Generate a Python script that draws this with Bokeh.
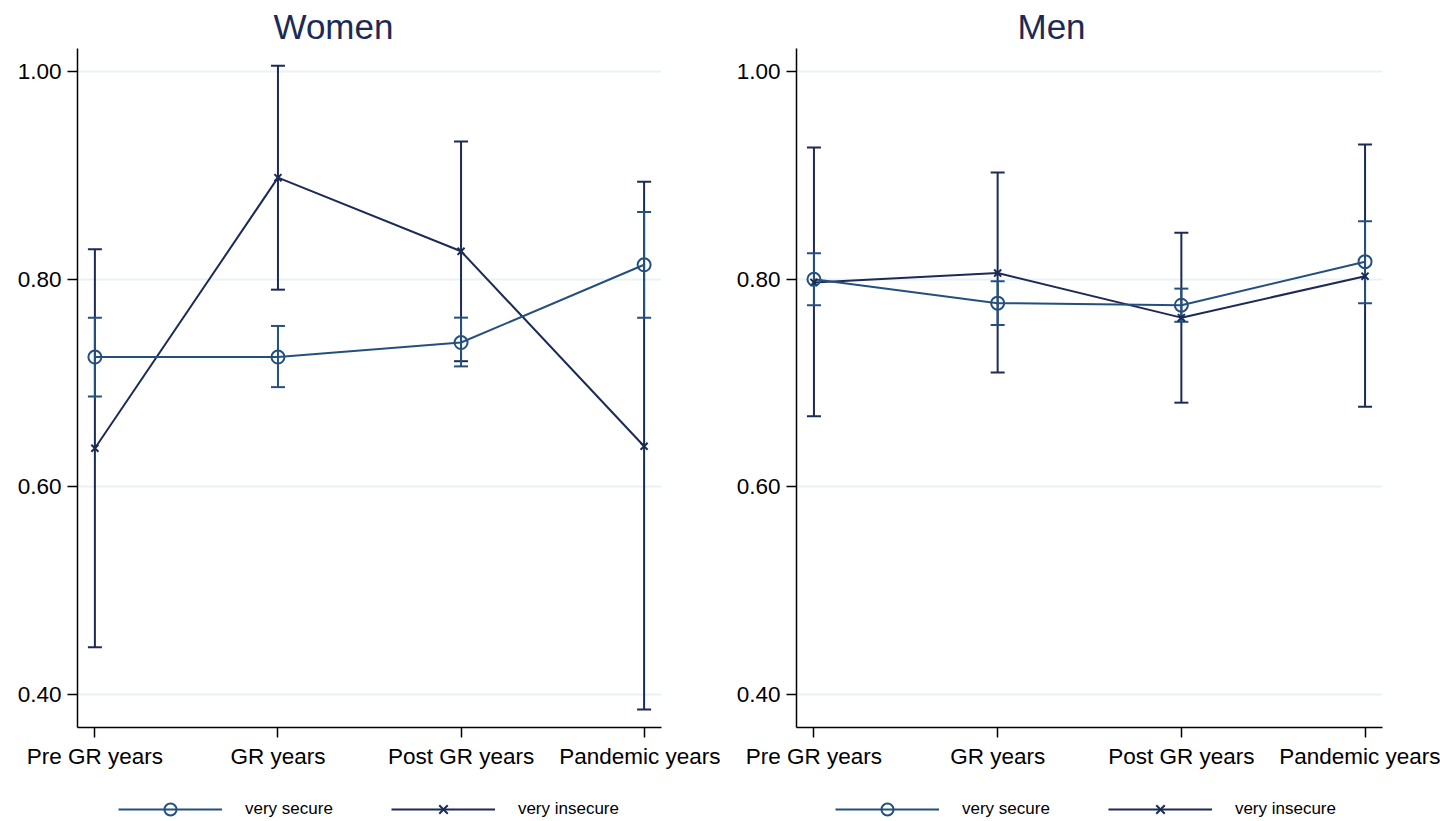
from bokeh.plotting import figure
from bokeh.models import (Range1d, FixedTicker, NumeralTickFormatter, Whisker,
                          ColumnDataSource, Legend, LegendItem, TeeHead)
from bokeh.layouts import row, column
from bokeh.embed import file_html
from bokeh.resources import INLINE

# ---------------- data ----------------
categories = ["Pre GR years", "GR years", "Post GR years", "Pandemic years"]
positions = [1, 2, 3, 4]
y_ticks = [0.4, 0.6, 0.8, 1.0]

women_secure = [0.725, 0.725, 0.739, 0.814]
women_secure_lo = [0.687, 0.696, 0.716, 0.763]
women_secure_hi = [0.763, 0.755, 0.763, 0.865]
women_insecure = [0.637, 0.898, 0.827, 0.639]
women_insecure_lo = [0.445, 0.790, 0.721, 0.385]
women_insecure_hi = [0.829, 1.006, 0.933, 0.894]

men_secure = [0.800, 0.777, 0.775, 0.817]
men_secure_lo = [0.775, 0.756, 0.759, 0.777]
men_secure_hi = [0.825, 0.798, 0.791, 0.856]
men_insecure = [0.797, 0.806, 0.763, 0.803]
men_insecure_lo = [0.668, 0.710, 0.681, 0.677]
men_insecure_hi = [0.927, 0.903, 0.845, 0.930]

series_labels = ["very secure", "very insecure"]

# ---------------- style ----------------
FONT = "Liberation Sans"
SECURE = "#24507d"
INSECURE = "#1c2a56"
TITLE_C = "#1c2a56"
GRID = "#eaf2f3"


def panel(title, title_offset, src_s, src_i, frame_w, border_left, border_right):
    p = figure(frame_width=frame_w, frame_height=679, output_backend="svg",
               toolbar_location=None,
               x_range=Range1d(0.905, 4.095), y_range=Range1d(0.3677, 1.0226),
               min_border_left=border_left, min_border_right=border_right,
               min_border_top=48, min_border_bottom=44)
    p.title.text = title
    p.title.align = "left"
    p.title.offset = title_offset
    p.title.text_font = FONT
    p.title.text_font_size = "35px"
    p.title.text_font_style = "normal"
    p.title.text_color = TITLE_C
    p.title.standoff = 6
    p.outline_line_color = None
    p.background_fill_color = "white"
    p.border_fill_color = "white"

    # axes
    for ax in (p.xaxis[0], p.yaxis[0]):
        ax.axis_line_color = "black"
        ax.axis_line_width = 1.5
        ax.major_tick_line_color = "black"
        ax.major_tick_line_width = 1.5
        ax.major_tick_out = 10
        ax.major_tick_in = 0
        ax.minor_tick_line_color = None
        ax.major_label_text_font = FONT
        ax.major_label_text_font_size = "22.5px"
        ax.major_label_text_color = "black"
        ax.major_label_standoff = 6
        ax.axis_label_standoff = 0
    p.xaxis.ticker = FixedTicker(ticks=positions)
    p.xaxis.major_label_overrides = {pos: c for pos, c in zip(positions, categories)}
    p.yaxis.ticker = FixedTicker(ticks=y_ticks)
    p.yaxis.formatter = NumeralTickFormatter(format="0.00")

    p.xgrid.grid_line_color = None
    p.ygrid.grid_line_color = GRID
    p.ygrid.grid_line_width = 2

    for src, col in ((src_i, INSECURE), (src_s, SECURE)):
        w = Whisker(source=src, base="x", upper="hi", lower="lo",
                    line_color=col, line_width=2,
                    upper_head=TeeHead(size=14, line_color=col, line_width=2),
                    lower_head=TeeHead(size=14, line_color=col, line_width=2))
        p.add_layout(w)

    p.line("x", "y", source=src_i, line_color=INSECURE, line_width=2)
    p.line("x", "y", source=src_s, line_color=SECURE, line_width=2)
    p.scatter("x", "y", source=src_i, marker="x", size=10,
              line_color=INSECURE, line_width=2)
    p.scatter("x", "y", source=src_s, marker="circle", size=13,
              line_color=SECURE, line_width=2, fill_color=None)
    return p


def legend_strip(src_s, src_i, legend_x):
    # the series renderers here lie outside the visible ranges; only the
    # legend (fed by them) is shown in this strip
    q = figure(frame_width=720, frame_height=50, output_backend="svg",
               toolbar_location=None, x_axis_type=None, y_axis_type=None,
               min_border=0, x_range=Range1d(20, 21), y_range=Range1d(20, 21))
    q.outline_line_color = None
    q.xgrid.grid_line_color = None
    q.ygrid.grid_line_color = None
    q.background_fill_color = "white"
    q.border_fill_color = "white"
    l_s = q.line("x", "y", source=src_s, line_color=SECURE, line_width=2)
    m_s = q.scatter("x", "y", source=src_s, marker="circle", size=13,
                    line_color=SECURE, line_width=2, fill_color=None)
    l_i = q.line("x", "y", source=src_i, line_color=INSECURE, line_width=2)
    m_i = q.scatter("x", "y", source=src_i, marker="x", size=10,
                    line_color=INSECURE, line_width=2)
    legend = Legend(items=[LegendItem(label=series_labels[0], renderers=[l_s, m_s]),
                           LegendItem(label=series_labels[1], renderers=[l_i, m_i])],
                    orientation="horizontal", location=(legend_x, -3),
                    glyph_width=104, glyph_height=30, label_standoff=23,
                    spacing=58, label_text_font=FONT, label_text_font_size="17px",
                    label_text_color="black", label_height=30,
                    border_line_color=None, background_fill_alpha=0,
                    padding=0, margin=0)
    q.add_layout(legend, "center")
    return q


w_s = ColumnDataSource(dict(x=positions, y=women_secure, lo=women_secure_lo, hi=women_secure_hi))
w_i = ColumnDataSource(dict(x=positions, y=women_insecure, lo=women_insecure_lo, hi=women_insecure_hi))
m_s = ColumnDataSource(dict(x=positions, y=men_secure, lo=men_secure_lo, hi=men_secure_hi))
m_i = ColumnDataSource(dict(x=positions, y=men_insecure, lo=men_insecure_lo, hi=men_insecure_hi))

p1 = panel("Women", 196, w_s, w_i, 584, 77, 59)
p2 = panel("Men", 221, m_s, m_i, 586, 76, 58)
q1 = legend_strip(w_s, w_i, 118)
q2 = legend_strip(m_s, m_i, 115)

layout = column(row(p1, p2, spacing=0), row(q1, q2, spacing=0), spacing=0)
open("out.html", "w").write(file_html(layout, INLINE))
